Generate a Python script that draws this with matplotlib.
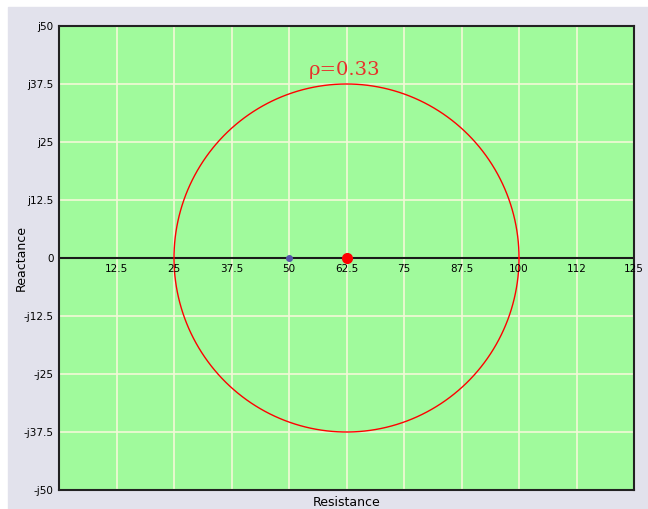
import numpy as np
import matplotlib
matplotlib.use("Agg")
import matplotlib.pyplot as plt

# chart data
x_ticks = [12.5, 25, 37.5, 50, 62.5, 75, 87.5, 100, 112.5, 125]
x_labels = ["12.5", "25", "37.5", "50", "62.5", "75", "87.5", "100", "112", "125"]
y_ticks = [50, 37.5, 25, 12.5, 0, -12.5, -25, -37.5, -50]
y_labels = ["j50", "j37.5", "j25", "j12.5", "0", "-j12.5", "-j25", "-j37.5", "-j50"]
circle_center = (62.5, 0)
circle_radius = 37.5
load_point = (62.5, 0)
ref_point = (50, 0)
rho_label = "ρ=0.33"


def main():
    fig = plt.figure(figsize=(6.48, 5.09), dpi=100, facecolor="white")
    # gray panel behind everything
    fig.patches.append(plt.Rectangle((8 / 648, 0), 640 / 648, 502 / 509,
                                     transform=fig.transFigure, color="#E2E2EC", zorder=-1))
    ax = fig.add_axes([59 / 648, 1 - 490 / 509, 575 / 648, 464 / 509])
    ax.set_facecolor("#A0FA9C")
    ax.set_xlim(0, 125)
    ax.set_ylim(-50, 50)

    # grid
    for gx in np.arange(12.5, 125, 12.5):
        ax.axvline(gx, color="#F4F8D8", lw=1.2, zorder=1)
    for gy in np.arange(-37.5, 50, 12.5):
        ax.axhline(gy, color="#F4F8D8", lw=1.2, zorder=1)
    ax.axhline(0, color="#1a1a1a", lw=1.5, zorder=2)

    t = np.linspace(0, 2 * np.pi, 400)
    ax.plot(circle_center[0] + circle_radius * np.cos(t),
            circle_center[1] + circle_radius * np.sin(t), color="red", lw=1, zorder=3)
    ax.plot(*ref_point, "o", color="#5555aa", ms=4, zorder=4)
    ax.plot(*load_point, "o", color="red", ms=7, zorder=5)
    ax.text(62, 40.5, rho_label, color="#e8302a", fontsize=14, family="DejaVu Serif",
            ha="center", va="center", zorder=5)

    # x tick labels sit just under the zero line
    ax.set_xticks([])
    for xv, lab in zip(x_ticks, x_labels):
        ax.text(xv, -1.2, lab, ha="center", va="top", fontsize=7.5, color="black", zorder=5)
    ax.set_yticks(y_ticks)
    ax.set_yticklabels(y_labels, fontsize=7.5)
    ax.tick_params(axis="y", length=0, pad=4)

    for s in ax.spines.values():
        s.set_color("#222222")
        s.set_linewidth(1.5)

    ax.set_xlabel("Resistance", fontsize=9, labelpad=4)
    ax.set_ylabel("Reactance", fontsize=9, labelpad=-3)

    fig.savefig("out.png", dpi=100)


if __name__ == "__main__":
    main()
